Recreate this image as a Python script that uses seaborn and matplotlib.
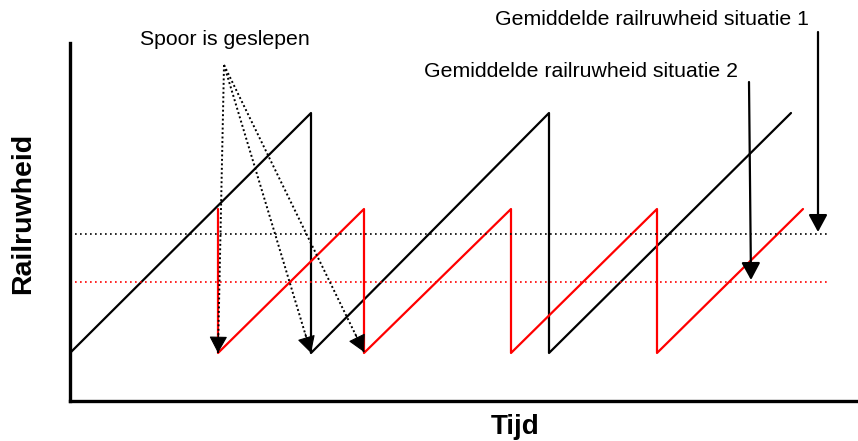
import matplotlib
matplotlib.use("Agg")
import matplotlib.pyplot as plt
import seaborn as sns
import pandas as pd
import numpy as np

sns.set_style("white")
plt.rcParams['font.family'] = ['Liberation Sans', 'DejaVu Sans']
plt.rcParams['text.color'] = 'black'
plt.rcParams['axes.labelcolor'] = 'black'

# Schematic data (time units, roughness units)
black_t = [0, 241, 241, 479, 479, 721]
black_r = [48, 288, 48, 288, 48, 288]
red_t = [148, 148, 294, 294, 441, 441, 587, 587, 733]
red_r = [192, 48, 192, 48, 192, 48, 192, 48, 192]
avg_black = 167
avg_red = 119
avg_end = 758

grind_src = (154, 336)
grind_targets = [(148, 48), (241, 48), (294, 49)]

label_s1 = "Gemiddelde railruwheid situatie 1"
label_s2 = "Gemiddelde railruwheid situatie 2"
label_grind = "Spoor is geslepen"

fig = plt.figure(figsize=(8.58, 4.41), dpi=100)
ax = fig.add_axes([70/858, 40/441, 788/858, 358/441])

df_b = pd.DataFrame({"t": black_t, "r": black_r})
df_r = pd.DataFrame({"t": red_t, "r": red_r})
sns.lineplot(data=df_b, x="t", y="r", sort=False, estimator=None, color="black", lw=1.6, ax=ax)
sns.lineplot(data=df_r, x="t", y="r", sort=False, estimator=None, color="red", lw=1.6, ax=ax)

ax.hlines(avg_black, 0, avg_end, colors="black", linestyles=(0, (1, 2)), lw=1.2)
ax.hlines(avg_red, 0, avg_end, colors="red", linestyles=(0, (1, 2)), lw=1.2)

ax.set_xlim(0, 788)
ax.set_ylim(0, 358)
ax.set_xticks([])
ax.set_yticks([])
ax.set_xlabel("")
ax.set_ylabel("")
for s in ["top", "right"]:
    ax.spines[s].set_visible(False)
for s in ["left", "bottom"]:
    ax.spines[s].set_linewidth(2.4)
    ax.spines[s].set_color("black")

fig.text(515/858, 1 - 427/441, "Tijd", ha="center", va="center",
         fontsize=20, fontweight="bold")
fig.text(23/858, 1 - 213/441, "Railruwheid", ha="center", va="center",
         fontsize=20.5, fontweight="bold", rotation=90)

head = "-|>,head_length=1.05,head_width=0.57"

# Grinding annotations: dotted shaft + solid head
for tx, ty in grind_targets:
    ax.plot([grind_src[0], tx], [grind_src[1], ty], color="black",
            ls=(0, (1, 1.3)), lw=1.4, clip_on=False)
    d = np.array([tx - grind_src[0], ty - grind_src[1]], dtype=float)
    d /= np.hypot(*d)
    start = (tx - d[0] * 20, ty - d[1] * 20)
    ax.annotate("", xy=(tx, ty), xytext=start,
                arrowprops=dict(arrowstyle=head, lw=0.8, color="black",
                                shrinkA=0, shrinkB=0),
                annotation_clip=False)
ax.text(155, 361, label_grind, ha="center", va="center", fontsize=15.3, clip_on=False)

# Average labels
ax.text(581.5, 381, label_s1, ha="center", va="center", fontsize=15.3, clip_on=False)
ax.text(511.5, 329, label_s2, ha="center", va="center", fontsize=15.3, clip_on=False)
ax.annotate("", xy=(748, 169), xytext=(748, 369),
            arrowprops=dict(arrowstyle=head, lw=1.6, color="black",
                            shrinkA=0, shrinkB=0),
            annotation_clip=False)
ax.annotate("", xy=(681, 121), xytext=(679, 319),
            arrowprops=dict(arrowstyle=head, lw=1.6, color="black",
                            shrinkA=0, shrinkB=0),
            annotation_clip=False)

fig.savefig("out.png", dpi=100)
